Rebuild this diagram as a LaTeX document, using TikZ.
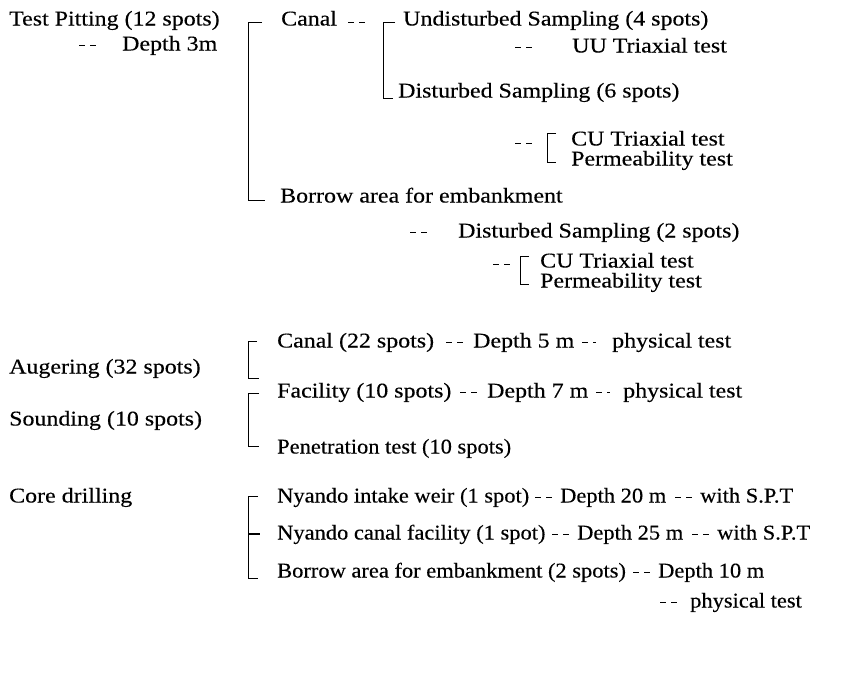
\documentclass[tikz,border=0pt]{standalone}
\usepackage{fontspec}
\setmainfont{Liberation Serif}[FakeStretch=1.14,FakeBold=0.3]
\newfontfamily\narrowf{Liberation Serif}[FakeStretch=1.07,FakeBold=0.3]
\begin{document}
\begin{tikzpicture}[x=1pt,y=-1pt,
  txt/.style={anchor=west, inner sep=0pt, text height=15pt, text depth=4pt,
              font=\fontsize{21}{25}\selectfont},
  ntxt/.style={txt, font=\narrowf\fontsize{21}{25}\selectfont},
  brk/.style={line width=0.8pt},
  dd/.style={line width=0.7pt, dash pattern=on 6pt off 5pt}]
\useasboundingbox (0,0) rectangle (868,688);

% ---------- Test pitting ----------
\node[txt] (tp)    at (9,20)   {Test Pitting (12 spots)};
\node[txt] (d3)    at (122,45) {Depth 3m};
\node[txt] (canal) at (281,20) {Canal};
\node[txt] (us)    at (403,20) {Undisturbed Sampling (4 spots)};
\node[txt] (uu)    at (572,47) {UU Triaxial test};
\node[txt] (ds6)   at (398,92) {Disturbed Sampling (6 spots)};
\node[txt] (cu1)   at (571,140) {CU Triaxial test};
\node[txt] (pm1)   at (571,160) {Permeability test};
\node[txt] (bor)   at (280,197) {Borrow area for embankment};
\node[txt] (ds2)   at (458,232) {Disturbed Sampling (2 spots)};
\node[txt] (cu2)   at (540,262) {CU Triaxial test};
\node[txt] (pm2)   at (540,282) {Permeability test};

\draw[dd] ([xshift=-43pt]d3.west) -- ([xshift=-26pt]d3.west);
\draw[brk] ([xshift=-19pt,yshift=-2pt]canal.west) -- ([xshift=-33pt,yshift=-2pt]canal.west)
           |- ([xshift=-15pt,yshift=-3pt]bor.west);
\draw[dd] ([xshift=11pt,yshift=-2pt]canal.east) -- ([xshift=-35pt,yshift=-2pt]us.west);
\draw[brk] ([xshift=-8pt,yshift=-2pt]us.west) -- ([xshift=-20pt,yshift=-2pt]us.west)
           |- ([xshift=-5pt,yshift=-6pt]ds6.west);
\draw[dd] ([xshift=-57pt]uu.west) -- ([xshift=-38pt]uu.west);
\draw[dd] ([xshift=-56pt,yshift=-3pt]cu1.west) -- ([xshift=-37pt,yshift=-3pt]cu1.west);
\draw[brk] ([xshift=-15pt,yshift=7pt]cu1.west) -- ([xshift=-24pt,yshift=7pt]cu1.west)
           |- ([xshift=-15pt,yshift=-2pt]pm1.west);
\draw[dd] ([xshift=-48pt]ds2.west) -- ([xshift=-30pt]ds2.west);
\draw[dd] ([xshift=-47pt,yshift=-2pt]cu2.west) -- ([xshift=-29pt,yshift=-2pt]cu2.west);
\draw[brk] ([xshift=-11pt,yshift=6pt]cu2.west) -- ([xshift=-20pt,yshift=6pt]cu2.west)
           |- ([xshift=-11pt,yshift=-2pt]pm2.west);

% ---------- Augering / Sounding ----------
\node[txt] (aug) at (9,368) {Augering (32 spots)};
\node[txt] (snd) at (9,420) {Sounding (10 spots)};
\node[txt] (c22) at (277,342) {Canal (22 spots)};
\node[txt] (d5)  at (473,342) {Depth 5 m};
\node[txt] (pt1) at (612,342) {physical test};
\node[txt] (fac) at (277,392) {Facility (10 spots)};
\node[txt] (d7)  at (487,392) {Depth 7 m};
\node[txt] (pt2) at (623,392) {physical test};
\node[ntxt] (pen) at (277,448) {Penetration test (10 spots)};

\draw[dd] ([xshift=-27pt]d5.west) -- ([xshift=-8pt]d5.west);
\draw[dd] ([xshift=8pt]d5.east) -- ([xshift=-16pt]pt1.west);
\draw[dd] ([xshift=-27pt]d7.west) -- ([xshift=-9pt]d7.west);
\draw[dd] ([xshift=8pt]d7.east) -- ([xshift=-13pt]pt2.west);

\draw[brk] ([xshift=-20pt,yshift=1pt]c22.west) -- ([xshift=-29pt,yshift=1pt]c22.west)
           |- ([xshift=-18pt,yshift=14pt]fac.west);
\draw[brk] ([xshift=-18pt,yshift=-1pt]fac.west) -- ([xshift=-29pt,yshift=-1pt]fac.west)
           |- ([xshift=-18pt,yshift=2pt]pen.west);

% ---------- Core drilling ----------
\node[txt]  (core) at (9,497)   {Core drilling};
\node[ntxt] (nyi)  at (277,497) {Nyando intake weir (1 spot)};
\node[ntxt] (d20)  at (560,497) {Depth 20 m};
\node[ntxt] (spt1) at (700,497) {with S.P.T};
\node[ntxt] (nyc)  at (277,534) {Nyando canal facility (1 spot)};
\node[ntxt] (d25)  at (577,534) {Depth 25 m};
\node[ntxt] (spt2) at (717,534) {with S.P.T};
\node[ntxt] (bor2) at (277,572) {Borrow area for embankment (2 spots)};
\node[ntxt] (d10)  at (658,572) {Depth 10 m};
\node[ntxt] (pt3)  at (690,602) {physical test};

\draw[dd] ([xshift=-25pt]d20.west) -- ([xshift=-8pt]d20.west);
\draw[dd] ([xshift=-25pt]spt1.west) -- ([xshift=-8pt]spt1.west);
\draw[dd] ([xshift=-25pt]d25.west) -- ([xshift=-8pt]d25.west);
\draw[dd] ([xshift=-25pt]spt2.west) -- ([xshift=-8pt]spt2.west);
\draw[dd] ([xshift=-25pt]d10.west) -- ([xshift=-8pt]d10.west);
\draw[dd] ([xshift=-30pt]pt3.west) -- ([xshift=-12pt]pt3.west);

\draw[brk] ([xshift=-19pt,yshift=1pt]nyi.west) -- ([xshift=-29pt,yshift=1pt]nyi.west)
           |- ([xshift=-19pt,yshift=-6pt]bor2.west);
\draw[line width=1.4pt] ([xshift=-29pt]nyc.west) -- ([xshift=-17pt]nyc.west);
\end{tikzpicture}
\end{document}
